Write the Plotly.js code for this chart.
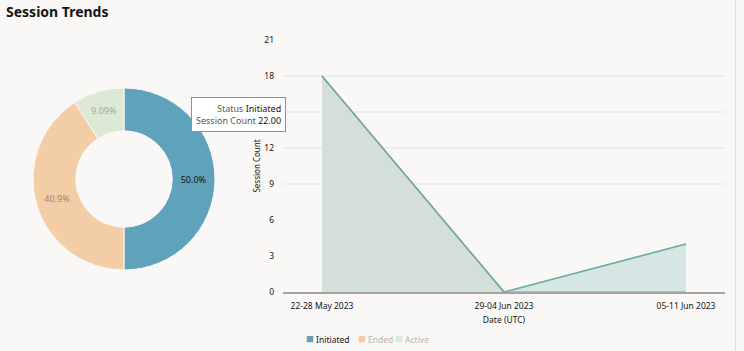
<!DOCTYPE html>
<html>
<head>
<meta charset="utf-8">
<script src="https://cdn.plot.ly/plotly-3.0.1.min.js"></script>
<style>
  html, body { margin: 0; padding: 0; background: #f9f8f6; }
  #chart { width: 744px; height: 351px; }
</style>
</head>
<body>
<div id="chart"></div>
<script>
// ---- data ----
const statuses = ["Initiated", "Ended", "Active"];
const statusTotals = [22, 18, 4];
const weeks = ["22-28 May 2023", "29-04 Jun 2023", "05-11 Jun 2023"];
const initiated = [18, 0, 4];
const ended = [18, 0, 0];
const active = [0, 0, 4];
const yTicks = [0, 3, 6, 9, 12, 15, 18, 21];
const yTickText = ["0", "3", "6", "9", "12", "", "18", "21"]; // 15 is hidden behind the tooltip
const gridValues = [9, 12, 15, 18];

// ---- styles ----
const FONT = "Noto Sans, sans-serif";
const BG = "#f9f8f6";
const sliceColors = ["#5fa2bc", "#f2cda5", "#dde8d5"];
const sliceTextColors = ["#161513", "#9c8a77", "#a3a8a1"];
const legendTextColors = ["#161513", "#b9b7b3", "#b9b7b3"];
const legendX = [304, 356, 393];
const W = 744, H = 351;
const px = v => v / W;
const py = v => 1 - v / H;

const traces = [];

// donut
traces.push({
  type: "pie",
  labels: statuses,
  values: statusTotals,
  hole: 0.53,
  sort: false,
  direction: "clockwise",
  rotation: 0,
  marker: { colors: sliceColors, line: { color: BG, width: 1 } },
  texttemplate: "%{percent:.3p}",
  textposition: "inside",
  insidetextorientation: "horizontal",
  textfont: { family: FONT, size: 9, color: sliceTextColors },
  domain: { x: [px(33), px(215)], y: [py(270), py(88)] },
  showlegend: false,
  hoverinfo: "skip"
});

// area series
traces.push({
  type: "scatter", mode: "lines", x: weeks, y: active,
  line: { color: "#cfe0c8", width: 1.5 },
  fill: "tozeroy", fillcolor: "rgb(236,242,237)",
  showlegend: false, hoverinfo: "skip"
});
traces.push({
  type: "scatter", mode: "lines", x: weeks, y: ended,
  line: { color: "#d9a978", width: 1.5 },
  fill: "tozeroy", fillcolor: "rgb(233,234,224)",
  showlegend: false, hoverinfo: "skip"
});
traces.push({
  type: "scatter", mode: "lines", x: weeks, y: initiated,
  line: { color: "#6aab9f", width: 1.5 },
  fill: "tozeroy", fillcolor: "rgba(95,162,188,0.15)",
  showlegend: false, hoverinfo: "skip"
});

const shapes = gridValues.map(v => ({
  type: "line", xref: "paper", yref: "y",
  x0: px(283), x1: px(725), y0: v, y1: v,
  line: { color: "#e3e4ea", width: 1 }, layer: "below"
}));
shapes.push({
  type: "line", xref: "paper", yref: "paper",
  x0: px(735.5), x1: px(735.5), y0: 0, y1: 1,
  line: { color: "#e2e1df", width: 1 }
});

const annotations = [
  {
    xref: "paper", yref: "paper", x: px(4), y: py(11),
    xanchor: "left", yanchor: "middle", showarrow: false,
    text: "<b>Session Trends</b>",
    font: { family: FONT, size: 14, color: "#161513" }
  },
  {
    xref: "paper", yref: "paper", x: px(191), y: py(97),
    xanchor: "left", yanchor: "top", showarrow: false, align: "right",
    text: "Status <span style='color:#161513'>" + statuses[0] + "</span><br>" +
          "Session Count <span style='color:#161513'>" + statusTotals[0].toFixed(2) + "</span>",
    font: { family: FONT, size: 9, color: "#5b5a58" },
    bgcolor: "#ffffff", bordercolor: "#5fa2bc", borderwidth: 1, borderpad: 4
  }
];

// legend (drawn as text items)
statuses.forEach((s, i) => {
  annotations.push({
    xref: "paper", yref: "paper", x: px(legendX[i]), y: py(338),
    xanchor: "left", yanchor: "middle", showarrow: false,
    text: "<span style='color:" + sliceColors[i] + ";font-size:13px'>■</span> " + s,
    font: { family: FONT, size: 8.5, color: legendTextColors[i] }
  });
});

const layout = {
  width: W, height: H,
  margin: { l: 0, r: 0, t: 0, b: 0 },
  paper_bgcolor: BG, plot_bgcolor: "rgba(0,0,0,0)",
  font: { family: FONT, size: 8.5, color: "#161513" },
  xaxis: {
    type: "category",
    domain: [px(283), px(725)],
    range: [-0.214, 2.214],
    showgrid: false, zeroline: false,
    showline: true, linecolor: "#a3a3a3", linewidth: 1.5,
    ticks: "", ticklabelstandoff: 5,
    tickfont: { family: FONT, size: 8.5, color: "#161513" },
    title: { text: "Date (UTC)", standoff: 7, font: { family: FONT, size: 8.5, color: "#161513" } },
    fixedrange: true
  },
  yaxis: {
    domain: [py(292), py(40)],
    range: [0, 21],
    tickvals: yTicks,
    ticktext: yTickText,
    showgrid: false, zeroline: false, showline: false,
    ticks: "", ticklabelstandoff: 8,
    tickfont: { family: FONT, size: 8.5, color: "#161513" },
    title: { text: "Session Count", standoff: 2, font: { family: FONT, size: 8, color: "#161513" } },
    fixedrange: true
  },
  showlegend: false,
  shapes: shapes,
  annotations: annotations,
  hovermode: false
};

Plotly.newPlot("chart", traces, layout, { displayModeBar: false, staticPlot: true });
</script>
</body>
</html>
